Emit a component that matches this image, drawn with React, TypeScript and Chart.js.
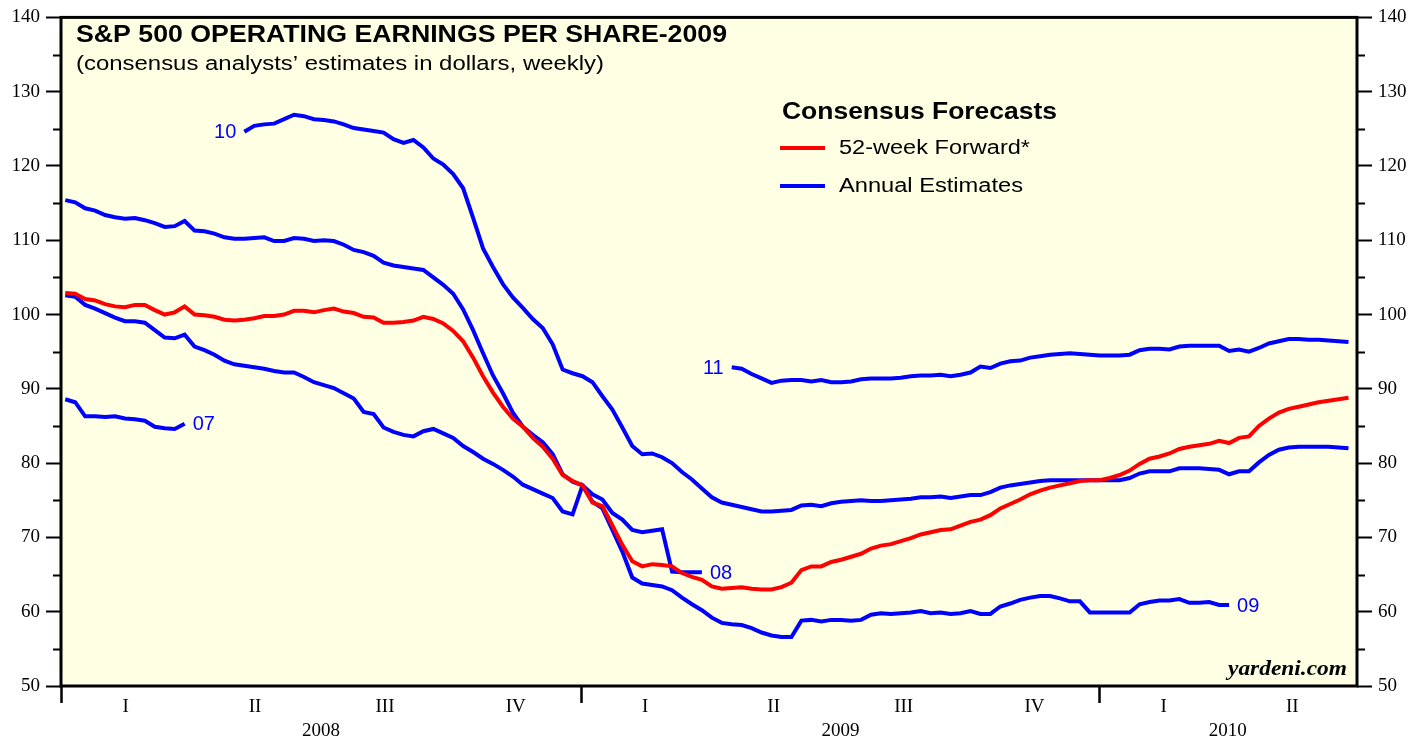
import React, { useEffect, useRef } from 'react';
import { Chart, registerables } from 'chart.js';

Chart.register(...registerables);

// Weekly observations: day offset (from 2008-01-01) of the first week, and week length
const START_DAY = 3;
const WEEK = 7;

// Annual estimates (blue) by calendar year, weekly, starting at week index shown
const est07Start = 0;
const est07 = [88.6, 88.2, 86.3, 86.3, 86.2, 86.3, 86.0, 85.9, 85.7, 84.9, 84.7, 84.6, 85.3];

const est08Start = 0;
const est08 = [
  102.6, 102.4, 101.3, 100.8, 100.2, 99.6, 99.1, 99.1, 98.9, 97.9,
  96.9, 96.8, 97.3, 95.7, 95.2, 94.6, 93.8, 93.3, 93.1, 92.9,
  92.7, 92.4, 92.2, 92.2, 91.6, 90.9, 90.5, 90.1, 89.4, 88.7,
  86.9, 86.6, 84.8, 84.2, 83.8, 83.6, 84.3, 84.6, 84.0, 83.4,
  82.3, 81.5, 80.6, 79.9, 79.1, 78.2, 77.1, 76.5, 75.9, 75.3,
  73.5, 73.1, 77.0, 75.8, 75.1, 73.3, 72.4, 71.0, 70.7, 70.9,
  71.1, 65.4, 65.3, 65.3, 65.3,
];

const est09Start = 0;
const est09 = [
  115.4, 115.1, 114.3, 114.0, 113.4, 113.1, 112.9, 113.0, 112.7, 112.3,
  111.8, 111.9, 112.6, 111.3, 111.2, 110.9, 110.4, 110.2, 110.2, 110.3,
  110.4, 109.9, 109.9, 110.3, 110.2, 109.9, 110.0, 109.9, 109.4, 108.7,
  108.4, 107.9, 107.0, 106.6, 106.4, 106.2, 106.0, 105.0, 104.0, 102.8,
  100.7, 97.9, 94.8, 91.8, 89.4, 86.8, 84.9, 83.8, 82.8, 81.2,
  78.5, 77.5, 77.0, 74.8, 73.9, 71.0, 68.1, 64.6, 63.8, 63.6,
  63.4, 62.9, 61.9, 61.0, 60.2, 59.2, 58.5, 58.3, 58.2, 57.8,
  57.2, 56.8, 56.6, 56.6, 58.8, 58.9, 58.7, 58.9, 58.9, 58.8,
  58.9, 59.6, 59.8, 59.7, 59.8, 59.9, 60.1, 59.8, 59.9, 59.7,
  59.8, 60.1, 59.7, 59.7, 60.7, 61.1, 61.6, 61.9, 62.1, 62.1,
  61.8, 61.4, 61.4, 59.9, 59.9, 59.9, 59.9, 59.9, 61.0, 61.3,
  61.5, 61.5, 61.7, 61.2, 61.2, 61.3, 60.9, 60.9,
];

const est10Start = 18;
const est10 = [
  124.6, 125.4, 125.6, 125.7, 126.3, 126.9, 126.7, 126.3, 126.2, 126.0,
  125.6, 125.1, 124.9, 124.7, 124.5, 123.6, 123.1, 123.5, 122.5, 121.0,
  120.2, 118.9, 117.0, 113.0, 108.9, 106.4, 104.1, 102.3, 100.9, 99.4,
  98.2, 96.0, 92.6, 92.1, 91.7, 90.9, 89.0, 87.2, 84.8, 82.3,
  81.2, 81.3, 80.8, 80.0, 78.8, 77.8, 76.6, 75.4, 74.7, 74.4,
  74.1, 73.8, 73.5, 73.5, 73.6, 73.7, 74.3, 74.4, 74.2, 74.6,
  74.8, 74.9, 75.0, 74.9, 74.9, 75.0, 75.1, 75.2, 75.4, 75.4,
  75.5, 75.3, 75.5, 75.7, 75.7, 76.1, 76.7, 77.0, 77.2, 77.4,
  77.6, 77.7, 77.7, 77.7, 77.7, 77.7, 77.7, 77.7, 77.7, 78.0,
  78.6, 78.9, 78.9, 78.9, 79.3, 79.3, 79.3, 79.2, 79.1, 78.5,
  78.9, 78.9, 80.1, 81.1, 81.8, 82.1, 82.2, 82.2, 82.2, 82.2, 82.1, 82.0,
];

const est11Start = 67;
const est11 = [
  92.9, 92.7, 92.0, 91.4, 90.8, 91.1, 91.2, 91.2, 91.0, 91.2,
  90.9, 90.9, 91.0, 91.3, 91.4, 91.4, 91.4, 91.5, 91.7, 91.8,
  91.8, 91.9, 91.7, 91.9, 92.2, 93.0, 92.8, 93.4, 93.7, 93.8,
  94.2, 94.4, 94.6, 94.7, 94.8, 94.7, 94.6, 94.5, 94.5, 94.5,
  94.6, 95.2, 95.4, 95.4, 95.3, 95.7, 95.8, 95.8, 95.8, 95.8,
  95.1, 95.3, 95.0, 95.5, 96.1, 96.4, 96.7, 96.7, 96.6, 96.6, 96.5, 96.4, 96.3,
];

// 52-week forward consensus (red)
const fwd52Start = 0;
const fwd52 = [
  102.9, 102.8, 102.1, 101.9, 101.4, 101.1, 101.0, 101.3, 101.3, 100.6,
  100.0, 100.3, 101.1, 100.0, 99.9, 99.7, 99.3, 99.2, 99.3, 99.5,
  99.8, 99.8, 100.0, 100.5, 100.5, 100.3, 100.6, 100.8, 100.4, 100.2,
  99.7, 99.6, 98.9, 98.9, 99.0, 99.2, 99.7, 99.4, 98.8, 97.8,
  96.4, 94.2, 91.7, 89.5, 87.6, 86.0, 84.9, 83.4, 82.2, 80.6,
  78.4, 77.6, 77.0, 74.7, 74.2, 71.6, 69.0, 66.8, 66.1, 66.4,
  66.3, 66.1, 65.2, 64.7, 64.3, 63.4, 63.1, 63.2, 63.3, 63.1,
  63.0, 63.0, 63.3, 63.9, 65.6, 66.1, 66.1, 66.7, 67.0, 67.4,
  67.8, 68.5, 68.9, 69.1, 69.5, 69.9, 70.4, 70.7, 71.0, 71.1,
  71.6, 72.1, 72.4, 73.0, 73.9, 74.5, 75.1, 75.8, 76.3, 76.7,
  77.0, 77.3, 77.6, 77.7, 77.7, 78.0, 78.4, 79.0, 79.9, 80.6,
  80.9, 81.3, 81.9, 82.2, 82.4, 82.6, 83.0, 82.7, 83.4, 83.6,
  85.0, 86.0, 86.8, 87.3, 87.6, 87.9, 88.2, 88.4, 88.6, 88.8,
];

// Axes
const X_MIN = 0;
const X_MAX = 912; // 2008-01-01 .. 2010-07-01 in days
const Y_MIN = 50;
const Y_MAX = 140;
const yMajorTicks = [50, 60, 70, 80, 90, 100, 110, 120, 130, 140];
const yMinorTicks = [55, 65, 75, 85, 95, 105, 115, 125, 135];
const quarterLabels = ['I', 'II', 'III', 'IV', 'I', 'II', 'III', 'IV', 'I', 'II'];
const quarterMid = [45.5, 136.5, 228, 320, 411, 501.5, 593, 685, 776, 866.5];
const yearLabels = ['2008', '2009', '2010'];
const yearStart = [0, 366, 731];
const yearLabelPos = [183, 548.5, 821];

const TITLE = 'S&P 500 OPERATING EARNINGS PER SHARE-2009';
const SUBTITLE = '(consensus analysts\u2019 estimates in dollars, weekly)';
const LEGEND_TITLE = 'Consensus Forecasts';
const LEGEND_ITEMS = [
  { label: '52-week Forward*', color: '#FF0000', width: 191 },
  { label: 'Annual Estimates', color: '#0000FF', width: 184 },
];
const SOURCE = 'yardeni.com';

const RED = '#FF0000';
const BLUE = '#0000FF';
const PLOT_BG = '#FFFFE3';

const toPoints = (vals: number[], start: number) =>
  vals.map((v, i) => ({ x: START_DAY + WEEK * (start + i), y: v }));

const seriesLabels = [
  { text: '07', vals: est07, start: est07Start, at: 'end' },
  { text: '08', vals: est08, start: est08Start, at: 'end' },
  { text: '09', vals: est09, start: est09Start, at: 'end' },
  { text: '10', vals: est10, start: est10Start, at: 'start' },
  { text: '11', vals: est11, start: est11Start, at: 'start' },
];

const SANS = '"Liberation Sans", Arial, sans-serif';
const SERIF = '"Liberation Serif", "Times New Roman", serif';

// draw text stretched horizontally to a target width (left aligned at x)
const fitText = (ctx: CanvasRenderingContext2D, text: string, x: number, y: number, width: number) => {
  const w = ctx.measureText(text).width;
  ctx.save();
  ctx.translate(x, y);
  ctx.scale(width / w, 1);
  ctx.textAlign = 'left';
  ctx.fillText(text, 0, 0);
  ctx.restore();
};

const decorPlugin = {
  id: 'decor',
  beforeDraw(chart: any) {
    const { ctx, chartArea: a } = chart;
    ctx.save();
    ctx.fillStyle = '#FFFFFF';
    ctx.fillRect(0, 0, chart.width, chart.height);
    ctx.fillStyle = PLOT_BG;
    ctx.fillRect(a.left, a.top, a.right - a.left, a.bottom - a.top);
    ctx.restore();
  },
  afterDraw(chart: any) {
    const { ctx, chartArea: a } = chart;
    const xs = chart.scales.x;
    const ys = chart.scales.y;
    ctx.save();

    // frame
    ctx.strokeStyle = '#000';
    ctx.lineWidth = 3;
    ctx.strokeRect(a.left, a.top, a.right - a.left, a.bottom - a.top);

    // minor ticks on both vertical axes
    ctx.lineWidth = 2;
    yMinorTicks.forEach((v) => {
      const py = Math.round(ys.getPixelForValue(v)) + 0.5;
      ctx.beginPath();
      ctx.moveTo(a.left - 8, py);
      ctx.lineTo(a.left, py);
      ctx.moveTo(a.right, py);
      ctx.lineTo(a.right + 8, py);
      ctx.stroke();
    });

    // year labels
    ctx.fillStyle = '#000';
    ctx.font = `19px ${SERIF}`;
    ctx.textAlign = 'center';
    ctx.textBaseline = 'middle';
    yearLabels.forEach((t, i) => {
      ctx.fillText(t, xs.getPixelForValue(yearLabelPos[i]), 731);
    });

    // title
    ctx.textBaseline = 'alphabetic';
    ctx.font = `bold 23px ${SANS}`;
    fitText(ctx, TITLE, 76, 42, 651);
    ctx.font = `20px ${SANS}`;
    fitText(ctx, SUBTITLE, 76, 70, 528);

    // legend
    ctx.font = `bold 23px ${SANS}`;
    fitText(ctx, LEGEND_TITLE, 782, 119, 275);
    ctx.font = `20px ${SANS}`;
    LEGEND_ITEMS.forEach((it, i) => {
      const ly = 148 + i * 38;
      ctx.strokeStyle = it.color;
      ctx.lineWidth = 4;
      ctx.beginPath();
      ctx.moveTo(780, ly);
      ctx.lineTo(825, ly);
      ctx.stroke();
      ctx.fillStyle = '#000';
      ctx.textBaseline = 'middle';
      fitText(ctx, it.label, 839, ly, it.width);
    });

    // series labels
    ctx.fillStyle = BLUE;
    ctx.font = `20px ${SANS}`;
    ctx.textBaseline = 'middle';
    seriesLabels.forEach((s) => {
      const idx = s.at === 'end' ? s.vals.length - 1 : 0;
      const px = xs.getPixelForValue(START_DAY + WEEK * (s.start + idx));
      const py = ys.getPixelForValue(s.vals[idx]);
      if (s.at === 'end') {
        ctx.textAlign = 'left';
        ctx.fillText(s.text, px + 8, py + 1);
      } else {
        ctx.textAlign = 'right';
        ctx.fillText(s.text, px - 8, py + 1);
      }
    });

    // source
    ctx.fillStyle = '#000';
    ctx.textBaseline = 'alphabetic';
    ctx.font = `italic bold 20px ${SERIF}`;
    fitText(ctx, SOURCE, 1228, 675, 119);

    ctx.restore();
  },
};

const xTickValues = [...yearStart, ...quarterMid].sort((p, q) => p - q);

export default function App() {
  const ref = useRef<HTMLCanvasElement | null>(null);

  useEffect(() => {
    if (!ref.current) return;
    const lineDs = (label: string, data: any[], color: string) => ({
      label,
      data,
      borderColor: color,
      backgroundColor: color,
      borderWidth: 4,
      pointRadius: 0,
      tension: 0,
      fill: false,
      yAxisID: 'y',
      xAxisID: 'x',
    });

    const yAxis = (position: 'left' | 'right', width: number) => ({
      type: 'linear' as const,
      position,
      min: Y_MIN,
      max: Y_MAX,
      afterBuildTicks: (s: any) => {
        s.ticks = yMajorTicks.map((v) => ({ value: v }));
      },
      afterFit: (s: any) => {
        s.width = width;
      },
      ticks: {
        autoSkip: false,
        padding: 6,
        color: '#000',
        font: { family: SERIF, size: 19 },
        callback: (v: any) => String(v),
      },
      grid: {
        drawOnChartArea: false,
        drawTicks: true,
        tickLength: 15,
        tickColor: '#000',
        tickWidth: 2,
      },
      border: { display: false },
    });

    const chart = new Chart(ref.current, {
      type: 'line',
      data: {
        datasets: [
          lineDs('52-week Forward*', toPoints(fwd52, fwd52Start), RED),
          lineDs('2007', toPoints(est07, est07Start), BLUE),
          lineDs('2008', toPoints(est08, est08Start), BLUE),
          lineDs('2009', toPoints(est09, est09Start), BLUE),
          lineDs('2010', toPoints(est10, est10Start), BLUE),
          lineDs('2011', toPoints(est11, est11Start), BLUE),
        ],
      },
      options: {
        responsive: false,
        animation: false,
        events: [],
        layout: { padding: { top: 13, left: 0, right: 0, bottom: 0 } },
        plugins: {
          legend: { display: false },
          tooltip: { enabled: false },
          title: { display: false },
        },
        scales: {
          x: {
            type: 'linear',
            position: 'bottom',
            min: X_MIN,
            max: X_MAX,
            afterBuildTicks: (s: any) => {
              s.ticks = xTickValues.map((v) => ({ value: v }));
            },
            afterFit: (s: any) => {
              s.height = 56;
            },
            ticks: {
              autoSkip: false,
              maxRotation: 0,
              minRotation: 0,
              padding: -7,
              color: '#000',
              font: { family: SERIF, size: 19 },
              callback: (v: any) => {
                const qi = quarterMid.indexOf(Number(v));
                return qi >= 0 ? quarterLabels[qi] : '';
              },
            },
            grid: {
              drawOnChartArea: false,
              drawTicks: true,
              tickLength: 17,
              tickWidth: 2.5,
              tickColor: (ctx: any) =>
                ctx.tick && yearStart.includes(ctx.tick.value) ? '#000' : 'rgba(0,0,0,0)',
            },
            border: { display: false },
          },
          y: yAxis('left', 61),
          y2: yAxis('right', 70),
        },
      },
      plugins: [decorPlugin],
    } as any);
    return () => chart.destroy();
  }, []);

  return (
    <div style={{ position: 'absolute', left: 0, top: 0, width: 1427, height: 742, background: '#fff' }}>
      <canvas ref={ref} width={1427} height={742} style={{ display: 'block' }} />
    </div>
  );
}
